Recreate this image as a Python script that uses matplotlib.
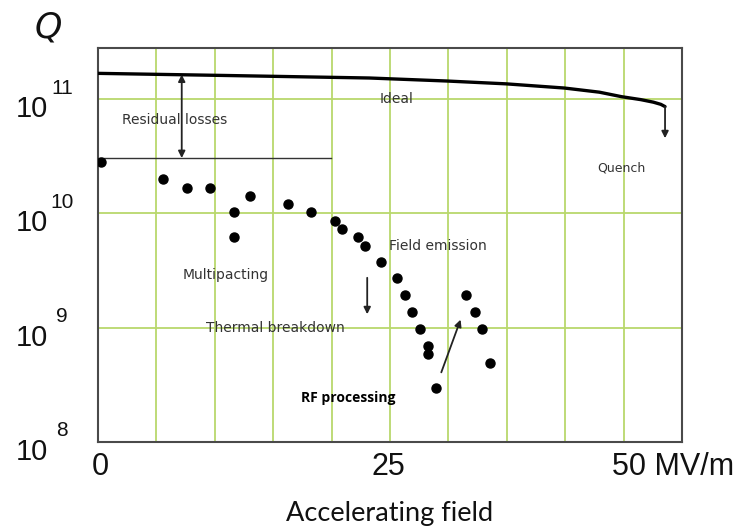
import numpy as np
import matplotlib
matplotlib.use("Agg")
import matplotlib.pyplot as plt
from matplotlib import transforms

# measured points, Q vs accelerating field (MV/m)
field = [0.3, 6.1, 8.4, 10.6, 12.8, 12.8, 14.3, 17.9, 20.1, 22.4, 23.0, 24.5,
         25.2, 26.7, 28.2, 29.0, 29.6, 30.4, 31.1, 31.1, 31.9, 34.7, 35.6, 36.2, 37.0]
q_meas = [2.82e10, 2.0e10, 1.67e10, 1.67e10, 1.03e10, 6.2e9, 1.42e10, 1.21e10, 1.03e10,
          8.6e9, 7.3e9, 6.2e9, 5.2e9, 3.76e9, 2.72e9, 1.93e9, 1.37e9, 9.7e8, 6.9e8,
          5.9e8, 2.97e8, 1.93e9, 1.37e9, 9.7e8, 4.9e8]

# ideal curve
ideal_field = [0, 12.0, 25.6, 32.9, 38.5, 44.0, 47.3, 49.4, 51.2, 52.4, 53.1, 53.5]
ideal_q = [1.68e11, 1.61e11, 1.53e11, 1.44e11, 1.36e11, 1.25e11, 1.15e11, 1.05e11,
           9.9e10, 9.4e10, 9.0e10, 8.6e10]

residual_q = 3.05e10
residual_end = 22.0
quench_q = 4.3e10

y_ticks = [1e8, 1e9, 1e10, 1e11]
y_exps = ['8', '9', '10', '11']
x_ticks = [0, 25, 50]
x_labels = ['0', '25', '50 MV/m']

grid_c = '#b9d86c'
txt_c = '#333333'

fig = plt.figure(figsize=(7.41, 5.31), dpi=100)
ax = fig.add_axes([98 / 741, 89 / 531, 584 / 741, 394 / 531])
ax.set_yscale('log')
ax.set_xlim(0, 55.1)
ax.set_ylim(1e8, 2.8e11)

# grid: 10 equal columns, decades
for gx in np.linspace(0, 55.1, 11)[1:-1]:
    ax.axvline(gx, color=grid_c, lw=1.3, zorder=0)
for gy in y_ticks[1:]:
    ax.axhline(gy, color=grid_c, lw=1.3, zorder=0)

for s in ax.spines.values():
    s.set_color('#4a4a4a')
    s.set_linewidth(1.5)
ax.set_xticks([])
ax.set_yticks([])
ax.minorticks_off()

ax.plot(ideal_field, ideal_q, color='black', lw=2.4, solid_capstyle='round', zorder=3)
ax.annotate('', xy=(ideal_field[-1], quench_q), xytext=(ideal_field[-1], ideal_q[-1]),
            arrowprops=dict(arrowstyle='-|>', color='#222222', lw=1.3, mutation_scale=10,
                            shrinkA=0))

ax.plot([0, residual_end], [residual_q, residual_q], color='#333333', lw=1.0, zorder=3)
ax.annotate('', xy=(7.9, residual_q), xytext=(7.9, 1.64e11),
            arrowprops=dict(arrowstyle='<|-|>', color='#222222', lw=1.3, mutation_scale=10,
                            shrinkA=0, shrinkB=0), zorder=4)

ax.plot(field, q_meas, 'o', color='black', ms=6.5, zorder=4)

ax.annotate('', xy=(25.4, 1.24e9), xytext=(25.4, 2.89e9),
            arrowprops=dict(arrowstyle='-|>', color='#222222', lw=1.3, mutation_scale=10))
ax.annotate('', xy=(34.3, 1.24e9), xytext=(32.3, 3.86e8),
            arrowprops=dict(arrowstyle='-|>', color='#222222', lw=1.3, mutation_scale=10))

fs = 10
ax.text(2.3, 6.56e10, 'Residual losses', color=txt_c, fontsize=fs, va='center', zorder=2)
ax.text(26.6, 1.0e11, 'Ideal', color=txt_c, fontsize=fs, va='center')
ax.text(47.1, 2.5e10, 'Quench', color=txt_c, fontsize=9, va='center')
ax.text(27.5, 5.2e9, 'Field emission', color=txt_c, fontsize=fs, va='center')
ax.text(8.0, 2.89e9, 'Multipacting', color=txt_c, fontsize=fs, va='center')
ax.text(10.2, 9.9e8, 'Thermal breakdown', color=txt_c, fontsize=fs, va='center')
ax.text(19.2, 2.43e8, 'RF processing', color='black', fontsize=10, fontweight='bold',
        family='Open Sans', va='center')

# y tick labels as 10 with raised exponent
ytr = transforms.blended_transform_factory(ax.transAxes, ax.transData)
for v, e in zip(y_ticks, y_exps):
    t1 = transforms.offset_copy(ytr, fig=fig, x=-50, y=-10, units='dots')
    ax.text(0, v, '10', transform=t1, ha='right', va='center', fontsize=21,
            family='Liberation Sans', color='#111111')
    t2 = transforms.offset_copy(ytr, fig=fig, x=-36, y=11, units='dots')
    ax.text(0, v, e, transform=t2, ha='center', va='center', fontsize=15,
            family='Liberation Sans', color='#111111')

# x tick labels
xtr = transforms.blended_transform_factory(ax.transData, ax.transAxes)
x_nudge = [2, 25, -16]
x_align = ['center', 'center', 'left']
for v, lab, dx, ha in zip(x_ticks, x_labels, x_nudge, x_align):
    t = transforms.offset_copy(xtr, fig=fig, x=dx, y=-25, units='dots')
    ax.text(v, 0, lab, transform=t, ha=ha, va='center', fontsize=22,
            family='Liberation Sans', color='#111111')

fig.text(0.5 * (98 + 682) / 741, 1 - 513 / 531, 'Accelerating field', ha='center', va='center',
         fontsize=19.5, family='Lato', color='#111111')
fig.text(48 / 741, 1 - 28 / 531, 'Q', ha='center', va='center', fontsize=25,
         style='italic', color='#111111')

fig.savefig('out.png', dpi=100)
